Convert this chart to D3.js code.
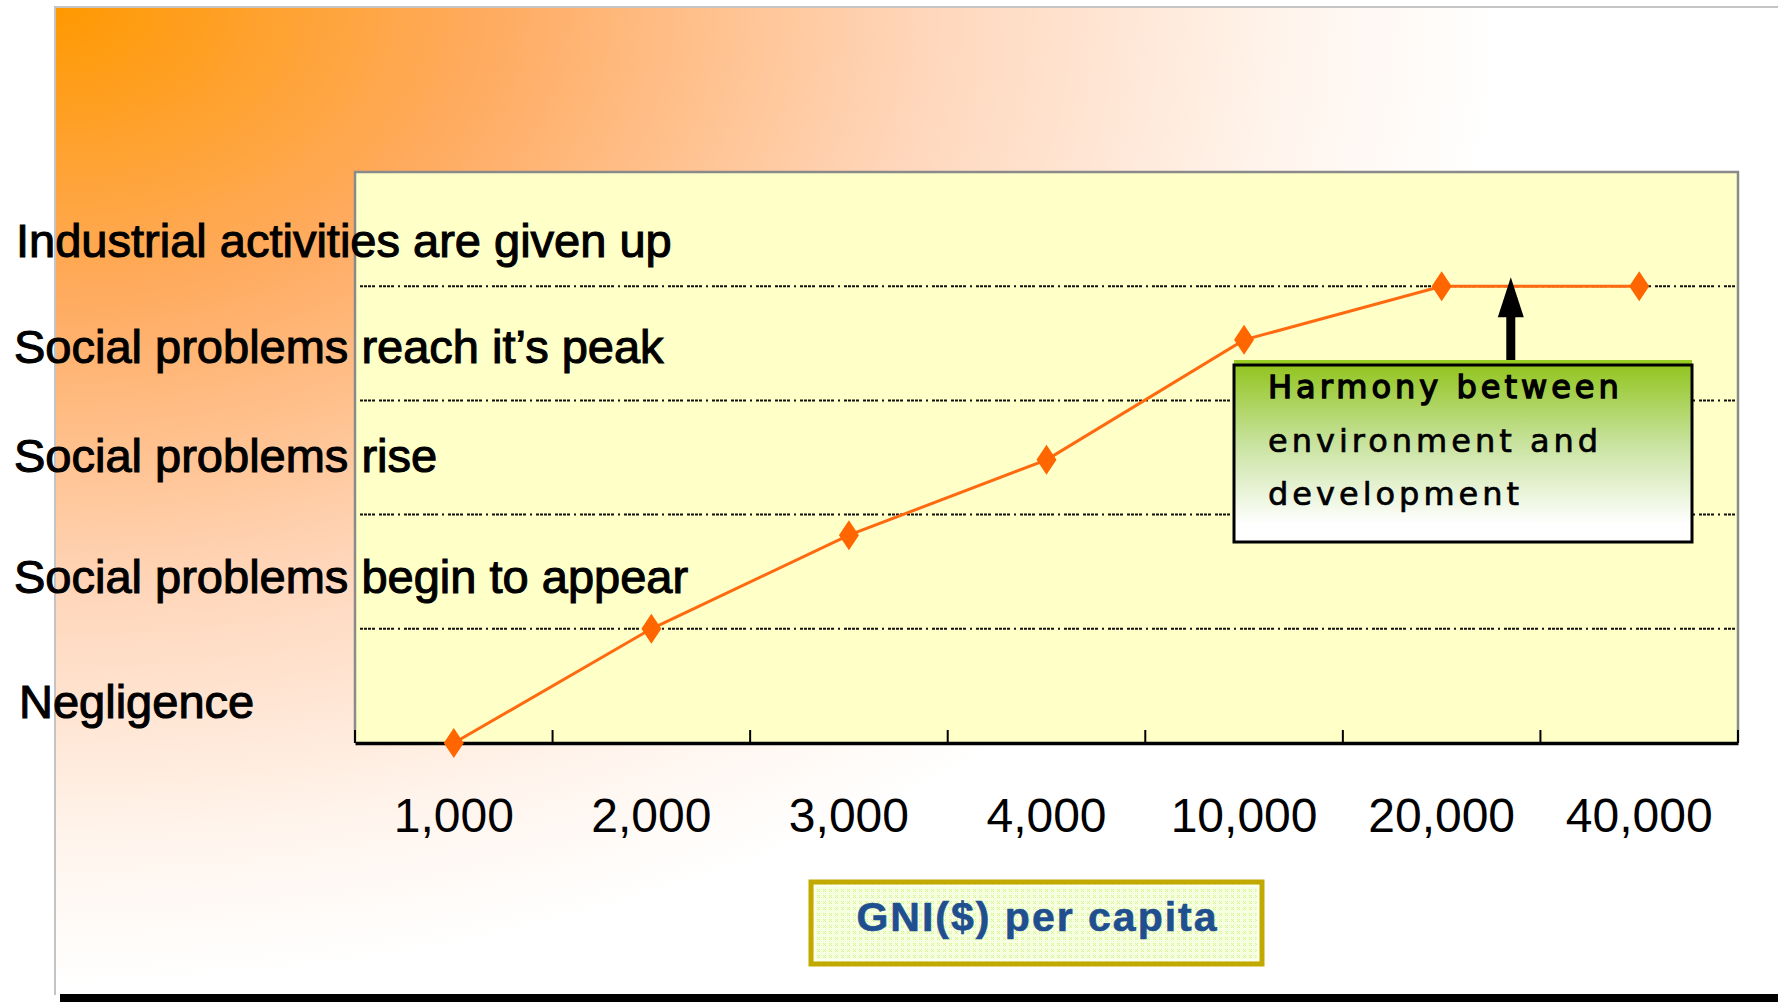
<!DOCTYPE html>
<html>
<head>
<meta charset="utf-8">
<script src="https://cdn.jsdelivr.net/npm/d3@7"></script>
<style>
  body { margin: 0; background: #fff; }
  svg { display: block; }
</style>
</head>
<body>
<div id="chart"></div>
<script>
// chart values
var gniLabels = ["1,000", "2,000", "3,000", "4,000", "10,000", "20,000", "40,000"];
var stageValues = [0, 1, 1.82, 2.48, 3.53, 4.0, 4.0];
var stageLabels = ["Negligence", "Social problems begin to appear", "Social problems rise",
  "Social problems reach it\u2019s peak", "Industrial activities are given up"];
var gridLevels = [1, 2, 3, 4];
var noteLines = ["Harmony between", "environment and", "development"];
var axisTitle = "GNI($) per capita";

var svgWidth = 1778;
var svgHeight = 1002;
var plot = {left: 355, top: 172, right: 1738, bottom: 743};

// small per-label nudges [dx, dy] so the stage labels sit like the original
var labelNudge = [[5, 9], [0, -2], [0, -9], [0, -3], [2, 5]];

var svg = d3.select("#chart")
  .append("svg")
  .attr("width", svgWidth)
  .attr("height", svgHeight);

var defs = svg.append("defs");

// orange glow in the top-left corner of the slide
var bg = defs.append("radialGradient")
  .attr("id", "bgGlow")
  .attr("gradientUnits", "userSpaceOnUse")
  .attr("cx", 0).attr("cy", 0).attr("r", 1)
  .attr("gradientTransform", "translate(54,6) scale(1450,980)");
[[0, "#ff9900"], [0.3, "#ffab60"], [0.6, "#ffd6ba"], [0.85, "#fff4ec"], [1, "#ffffff"]]
  .forEach(function(s) {
    bg.append("stop").attr("offset", s[0]).attr("stop-color", s[1]);
  });

var noteGrad = defs.append("linearGradient")
  .attr("id", "noteGrad")
  .attr("x1", 0).attr("y1", 0).attr("x2", 0).attr("y2", 1);
[[0, "#92c520"], [0.45, "#c9e3a0"], [0.9, "#ffffff"]].forEach(function(s) {
  noteGrad.append("stop").attr("offset", s[0]).attr("stop-color", s[1]);
});

var hatch = defs.append("pattern")
  .attr("id", "hatch")
  .attr("patternUnits", "userSpaceOnUse")
  .attr("width", 6).attr("height", 6);
hatch.append("rect").attr("width", 6).attr("height", 6).attr("fill", "#f6ffe0");
hatch.append("path")
  .attr("d", "M1,1L4,4M4,1L1,4")
  .attr("stroke", "#d6f590")
  .attr("stroke-width", 1);

// slide background and frame
svg.append("rect")
  .attr("x", 54).attr("y", 6)
  .attr("width", svgWidth - 54).attr("height", 989)
  .attr("fill", "url(#bgGlow)");
svg.append("path")
  .attr("d", "M55,995V7H" + svgWidth)
  .attr("fill", "none")
  .attr("stroke", "#c4c4c4")
  .attr("stroke-width", 2);
svg.append("rect")
  .attr("x", 60).attr("y", 994)
  .attr("width", svgWidth - 60).attr("height", 8)
  .attr("fill", "#000");

// scales
var xScale = d3.scaleBand()
  .domain(gniLabels)
  .range([plot.left, plot.right]);

var yScale = d3.scaleLinear()
  .domain([0, 5])
  .range([plot.bottom, plot.top]);

var xMid = function(d) { return xScale(d) + xScale.bandwidth() / 2; };

// plot area
svg.append("rect")
  .attr("x", plot.left).attr("y", plot.top)
  .attr("width", plot.right - plot.left)
  .attr("height", plot.bottom - plot.top)
  .attr("fill", "#ffffc8");
svg.append("path")
  .attr("d", "M" + plot.left + "," + plot.bottom + "V" + plot.top + "H" + plot.right + "V" + plot.bottom)
  .attr("fill", "none")
  .attr("stroke", "#8a8a8a")
  .attr("stroke-width", 2.5);

// dotted level lines (dash - dash - dot, each dash made of small dots)
svg.append("g")
  .selectAll("line")
  .data(gridLevels)
  .enter()
  .append("line")
  .attr("x1", plot.left + 5)
  .attr("x2", plot.right - 2)
  .attr("y1", d => yScale(d))
  .attr("y2", d => yScale(d))
  .attr("stroke", "#111")
  .attr("stroke-width", 2)
  .attr("stroke-dasharray", "3,1,3,1,3,1,3,4,3,1,3,1,3,1,3,4,2,4");

// x axis
var bottomAxis = d3.axisBottom(xScale)
  .tickSizeInner(0)
  .tickSizeOuter(0)
  .tickPadding(55);

var xAxis = svg.append("g")
  .attr("transform", `translate(0, ${plot.bottom})`)
  .call(bottomAxis);

xAxis.select(".domain")
  .attr("stroke", "#000")
  .attr("stroke-width", 3.5);

xAxis.selectAll("text")
  .attr("font-family", "'Liberation Sans', Arial, sans-serif")
  .attr("font-size", 48)
  .attr("fill", "#000");

// tick marks between categories
var boundaries = gniLabels.map(d => xScale(d)).concat([xScale.range()[1]]);
svg.append("g")
  .selectAll("line")
  .data(boundaries)
  .enter()
  .append("line")
  .attr("x1", d => d).attr("x2", d => d)
  .attr("y1", plot.bottom)
  .attr("y2", plot.bottom - 13)
  .attr("stroke", "#000")
  .attr("stroke-width", 2);

// stage labels
svg.append("g")
  .selectAll("text")
  .data(stageLabels)
  .enter()
  .append("text")
  .attr("x", (d, i) => 14 + labelNudge[i][0])
  .attr("y", (d, i) => yScale(i + 0.5) + 23 + labelNudge[i][1])
  .attr("font-family", "'Liberation Sans', Arial, sans-serif")
  .attr("font-size", 47)
  .attr("fill", "#000")
  .attr("stroke", "#000")
  .attr("stroke-width", 1.1)
  .text(d => d);

// line and diamonds
var line = d3.line()
  .x((d, i) => xMid(gniLabels[i]))
  .y(d => yScale(d));

svg.append("path")
  .datum(stageValues)
  .attr("d", line)
  .attr("fill", "none")
  .attr("stroke", "#ff6a10")
  .attr("stroke-width", 3);

svg.append("g")
  .selectAll("path")
  .data(stageValues)
  .enter()
  .append("path")
  .attr("d", "M0,-15L10,0L0,15L-10,0Z")
  .attr("transform", (d, i) => `translate(${xMid(gniLabels[i])}, ${yScale(d)})`)
  .attr("fill", "#ff6600");

// note box with arrow pointing at the plateau
var box = {x: 1234, y: 365, w: 458, h: 177};
var arrowX = xMid(gniLabels[5]) + 0.35 * (xMid(gniLabels[6]) - xMid(gniLabels[5]));
var arrowTip = yScale(stageValues[5]) - 9;

svg.append("rect")
  .attr("x", arrowX - 4.5).attr("y", arrowTip + 36)
  .attr("width", 9).attr("height", box.y - arrowTip - 36)
  .attr("fill", "#000");
svg.append("path")
  .attr("d", `M${arrowX},${arrowTip}L${arrowX + 13},${arrowTip + 40}L${arrowX - 13},${arrowTip + 40}Z`)
  .attr("fill", "#000");

svg.append("rect")
  .attr("x", box.x).attr("y", box.y - 5)
  .attr("width", box.w).attr("height", 6)
  .attr("fill", "#99cc22");
svg.append("rect")
  .attr("x", box.x).attr("y", box.y)
  .attr("width", box.w).attr("height", box.h)
  .attr("fill", "url(#noteGrad)")
  .attr("stroke", "#000")
  .attr("stroke-width", 3);

svg.append("g")
  .selectAll("text")
  .data(noteLines)
  .enter()
  .append("text")
  .attr("x", box.x + 34)
  .attr("y", (d, i) => box.y + 33 + i * 53.5)
  .attr("font-family", "'DejaVu Sans', Verdana, sans-serif")
  .attr("font-size", 32)
  .attr("letter-spacing", 4)
  .attr("fill", "#000")
  .attr("stroke", "#000")
  .attr("stroke-width", (d, i) => i === 0 ? 1.4 : 0.7)
  .text(d => d);

// axis title box
var titleBox = {x: 811, y: 882, w: 451, h: 82};
svg.append("rect")
  .attr("x", titleBox.x).attr("y", titleBox.y)
  .attr("width", titleBox.w).attr("height", titleBox.h)
  .attr("fill", "url(#hatch)")
  .attr("stroke", "#c2a900")
  .attr("stroke-width", 5);
svg.append("rect")
  .attr("x", titleBox.x + 4).attr("y", titleBox.y + 4)
  .attr("width", titleBox.w - 8).attr("height", titleBox.h - 8)
  .attr("fill", "none")
  .attr("stroke", "#fbfff0")
  .attr("stroke-width", 2);
svg.append("text")
  .attr("x", titleBox.x + titleBox.w / 2 + 1)
  .attr("y", 931)
  .attr("text-anchor", "middle")
  .attr("font-family", "'Liberation Sans', Arial, sans-serif")
  .attr("font-weight", "bold")
  .attr("font-size", 41)
  .attr("letter-spacing", 2)
  .attr("fill", "#1f4f8f")
  .attr("stroke", "#1f4f8f")
  .attr("stroke-width", 0.6)
  .text(axisTitle);
</script>
</body>
</html>
